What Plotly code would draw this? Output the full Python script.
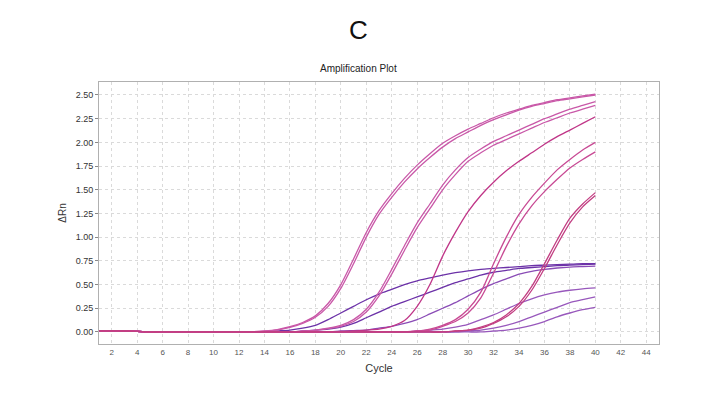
import plotly.graph_objects as go

cycles = list(range(1, 41))

# Pink / magenta high-plateau curves
amp_a1 = [0.012, 0.012, 0.010, 0.006, 0, 0, 0, 0, 0, 0, 0, 0, 0.002, 0.01, 0.025, 0.055, 0.10, 0.17, 0.30, 0.50,
          0.77, 1.05, 1.28, 1.46, 1.62, 1.76, 1.88, 1.99, 2.07, 2.14, 2.20, 2.26, 2.31, 2.35, 2.39, 2.42, 2.45, 2.47, 2.49, 2.51]
amp_a2 = [0.012, 0.012, 0.010, 0.006, 0, 0, 0, 0, 0, 0, 0, 0, 0.002, 0.008, 0.02, 0.048, 0.09, 0.155, 0.27, 0.46,
          0.72, 1.00, 1.24, 1.42, 1.58, 1.72, 1.84, 1.95, 2.04, 2.11, 2.18, 2.24, 2.29, 2.34, 2.38, 2.41, 2.44, 2.46, 2.48, 2.50]
amp_b1 = [0.012, 0.012, 0.010, 0.006, 0, 0, 0, 0, 0, 0, 0, 0, 0, 0, 0, 0, 0.01, 0.02, 0.04, 0.07,
          0.13, 0.24, 0.42, 0.66, 0.91, 1.15, 1.35, 1.55, 1.71, 1.84, 1.93, 2.01, 2.07, 2.13, 2.19, 2.25, 2.30, 2.35, 2.39, 2.43]
amp_b2 = [0.012, 0.012, 0.010, 0.006, 0, 0, 0, 0, 0, 0, 0, 0, 0, 0, 0, 0, 0.008, 0.017, 0.035, 0.06,
          0.11, 0.21, 0.38, 0.61, 0.86, 1.10, 1.30, 1.50, 1.66, 1.80, 1.89, 1.97, 2.03, 2.09, 2.15, 2.21, 2.26, 2.31, 2.35, 2.39]
amp_c = [0.012, 0.012, 0.010, 0.006, 0, 0, 0, 0, 0, 0, 0, 0, 0, 0, 0, 0, 0, 0, 0, 0.005,
         0.01, 0.02, 0.03, 0.06, 0.12, 0.27, 0.50, 0.80, 1.05, 1.27, 1.44, 1.58, 1.70, 1.80, 1.89, 1.98, 2.06, 2.13, 2.20, 2.27]
amp_d1 = [0.012, 0.012, 0.010, 0.006, 0, 0, 0, 0, 0, 0, 0, 0, 0, 0, 0, 0, 0, 0, 0, 0,
          0, 0, 0, 0, 0, 0.01, 0.03, 0.07, 0.13, 0.24, 0.42, 0.72, 1.00, 1.24, 1.42, 1.57, 1.71, 1.82, 1.92, 2.00]
amp_d2 = [0.012, 0.012, 0.010, 0.006, 0, 0, 0, 0, 0, 0, 0, 0, 0, 0, 0, 0, 0, 0, 0, 0,
          0, 0, 0, 0, 0, 0.01, 0.02, 0.06, 0.11, 0.20, 0.36, 0.62, 0.90, 1.14, 1.33, 1.48, 1.61, 1.73, 1.82, 1.90]
amp_e1 = [0.012, 0.012, 0.010, 0.006, 0, 0, 0, 0, 0, 0, 0, 0, 0, 0, 0, 0, 0, 0, 0, 0,
          0, 0, 0, 0, 0, 0, 0, 0, 0.01, 0.02, 0.05, 0.10, 0.18, 0.30, 0.48, 0.72, 0.97, 1.20, 1.35, 1.47]
amp_e2 = [0.012, 0.012, 0.010, 0.006, 0, 0, 0, 0, 0, 0, 0, 0, 0, 0, 0, 0, 0, 0, 0, 0,
          0, 0, 0, 0, 0, 0, 0, 0, 0.01, 0.02, 0.04, 0.09, 0.16, 0.27, 0.44, 0.67, 0.92, 1.15, 1.32, 1.44]

# Purple low-plateau curves
amp_p1 = [0.012, 0.012, 0.010, 0.006, 0, 0, 0, 0, 0, 0, 0, 0, 0, 0, 0.01, 0.02, 0.04, 0.07, 0.13, 0.20,
          0.27, 0.34, 0.40, 0.45, 0.50, 0.54, 0.57, 0.60, 0.625, 0.645, 0.66, 0.67, 0.68, 0.69, 0.70, 0.705, 0.71, 0.715, 0.72, 0.72]
amp_p2 = [0.012, 0.012, 0.010, 0.006, 0, 0, 0, 0, 0, 0, 0, 0, 0, 0, 0, 0, 0.01, 0.02, 0.03, 0.05,
          0.09, 0.15, 0.21, 0.27, 0.32, 0.37, 0.42, 0.47, 0.52, 0.56, 0.60, 0.63, 0.65, 0.67, 0.68, 0.69, 0.70, 0.705, 0.71, 0.715]
amp_p3 = [0.012, 0.012, 0.010, 0.006, 0, 0, 0, 0, 0, 0, 0, 0, 0, 0, 0, 0, 0, 0, 0, 0.01,
          0.015, 0.02, 0.04, 0.06, 0.09, 0.13, 0.19, 0.25, 0.31, 0.38, 0.45, 0.51, 0.56, 0.61, 0.64, 0.66, 0.675, 0.685, 0.69, 0.695]
amp_p4 = [0.012, 0.012, 0.010, 0.006, 0, 0, 0, 0, 0, 0, 0, 0, 0, 0, 0, 0, 0, 0, 0, 0,
          0, 0, 0, 0, 0, 0.01, 0.02, 0.03, 0.05, 0.08, 0.13, 0.18, 0.24, 0.30, 0.35, 0.39, 0.42, 0.44, 0.455, 0.465]
amp_p5 = [0.012, 0.012, 0.010, 0.006, 0, 0, 0, 0, 0, 0, 0, 0, 0, 0, 0, 0, 0, 0, 0, 0,
          0, 0, 0, 0, 0, 0, 0, 0, 0, 0.01, 0.02, 0.04, 0.07, 0.11, 0.16, 0.21, 0.26, 0.31, 0.34, 0.37]
amp_p6 = [0.012, 0.012, 0.010, 0.006, 0, 0, 0, 0, 0, 0, 0, 0, 0, 0, 0, 0, 0, 0, 0, 0,
          0, 0, 0, 0, 0, 0, 0, 0, 0, 0, 0, 0.01, 0.02, 0.04, 0.07, 0.11, 0.16, 0.20, 0.235, 0.26]

series = [
    ("P4", amp_p4, "#9858bc"),
    ("P5", amp_p5, "#9858bc"),
    ("P6", amp_p6, "#9858bc"),
    ("P3", amp_p3, "#8a4cb6"),
    ("P2", amp_p2, "#6c32a8"),
    ("P1", amp_p1, "#6c32a8"),
    ("A1", amp_a1, "#c958a8"),
    ("A2", amp_a2, "#c958a8"),
    ("B1", amp_b1, "#c958a8"),
    ("B2", amp_b2, "#c958a8"),
    ("C", amp_c, "#c03688"),
    ("D1", amp_d1, "#c84a94"),
    ("D2", amp_d2, "#c84a94"),
    ("E1", amp_e1, "#c23e82"),
    ("E2", amp_e2, "#c23e82"),
]

x_ticks = list(range(2, 46, 2))
y_ticks = [0.0, 0.25, 0.5, 0.75, 1.0, 1.25, 1.5, 1.75, 2.0, 2.25, 2.5]

fig = go.Figure()
for name, vals, col in series:
    assert len(vals) == len(cycles), name
    fig.add_trace(go.Scatter(x=cycles, y=vals, mode="lines", name=name,
                             line=dict(color=col, width=1.3, shape="spline", smoothing=0.7),
                             showlegend=False, hoverinfo="skip"))

font_family = "Liberation Sans, Arial, sans-serif"

fig.update_layout(
    width=708, height=397,
    margin=dict(l=91, r=57, t=74, b=61),
    paper_bgcolor="white", plot_bgcolor="white",
    font=dict(family=font_family, color="#333333"),
)
fig.update_xaxes(
    range=[1, 45], tickvals=x_ticks, ticktext=[str(v) for v in x_ticks],
    tickfont=dict(size=8, color="#555555"),
    showgrid=True, gridcolor="#dadada", griddash="dot", gridwidth=1,
    showline=True, linecolor="#b0b0b0", linewidth=1, mirror=True,
    ticks="", zeroline=False,
    title=dict(text="Cycle", font=dict(size=11, color="#333333"), standoff=8),
)
fig.update_yaxes(
    range=[-0.127, 2.637], tickvals=y_ticks, tickformat=".2f",
    tickfont=dict(size=9, color="#333333"),
    showgrid=True, gridcolor="#dadada", griddash="dot", gridwidth=1,
    showline=True, linecolor="#b0b0b0", linewidth=1, mirror=True,
    ticks="outside", ticklen=3, tickcolor="#888888", zeroline=False,
    title=dict(text="ΔRn", font=dict(size=10, color="#333333"), standoff=7),
)

fig.add_annotation(text="C", xref="paper", yref="paper", x=0.4625, y=1.198,
                   showarrow=False, font=dict(size=26, color="#111111", family=font_family),
                   xanchor="center", yanchor="middle")
fig.add_annotation(text="Amplification Plot", xref="paper", yref="paper", x=0.4625, y=1.053,
                   showarrow=False, font=dict(size=10, color="#222222", family=font_family),
                   xanchor="center", yanchor="middle")

fig.write_html("out.html")
